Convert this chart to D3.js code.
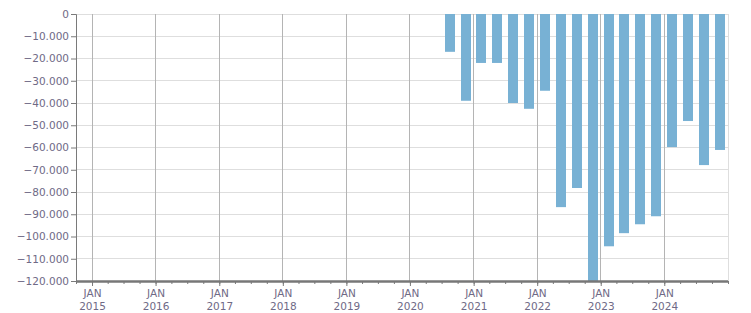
<!DOCTYPE html>
<html>
<head>
<meta charset="utf-8">
<script src="https://cdn.jsdelivr.net/npm/d3@7"></script>
<style>
  body { margin: 0; background: #fff; }
  text { font-family: "DejaVu Sans", Verdana, sans-serif; font-size: 10.5px; fill: #6f6a86; }
</style>
</head>
<body>
<div id="chart"></div>
<script>
// quarterly values, Q3 2020 .. Q4 2024
const quarters = ["2020-Q3","2020-Q4","2021-Q1","2021-Q2","2021-Q3","2021-Q4","2022-Q1","2022-Q2",
                  "2022-Q3","2022-Q4","2023-Q1","2023-Q2","2023-Q3","2023-Q4","2024-Q1","2024-Q2",
                  "2024-Q3","2024-Q4"];
const values = [-17000, -39000, -22000, -22000, -40000, -42600, -34500, -86800,
                -78200, -120000, -104400, -98500, -94500, -90900, -59800, -48100,
                -67900, -61100];
const yTicks = [0, -10000, -20000, -30000, -40000, -50000, -60000, -70000, -80000, -90000, -100000, -110000, -120000];
const years = [2015, 2016, 2017, 2018, 2019, 2020, 2021, 2022, 2023, 2024];

const width = 751, height = 313;
const margin = {top: 14, right: 23, bottom: 32, left: 76};

const svg = d3.select("#chart").append("svg")
    .attr("width", width)
    .attr("height", height);

const x = d3.scaleTime()
    .domain([new Date(2014, 9, 1), new Date(2025, 0, 1)])
    .range([margin.left, width - margin.right]);

const y = d3.scaleLinear()
    .domain([-120000, 0])
    .range([height - margin.bottom, margin.top]);

const fmt = d => d === 0 ? "0" : d3.format(",")(d).replace(/,/g, ".");

// horizontal grid
svg.append("g").selectAll("line")
    .data(yTicks)
    .join("line")
    .attr("x1", margin.left).attr("x2", width - margin.right)
    .attr("y1", d => y(d)).attr("y2", d => y(d))
    .attr("stroke", "#dedede").attr("stroke-width", 1)
    .attr("shape-rendering", "crispEdges");

// right border
svg.append("line")
    .attr("x1", width - margin.right).attr("x2", width - margin.right)
    .attr("y1", margin.top).attr("y2", height - margin.bottom)
    .attr("stroke", "#dedede").attr("shape-rendering", "crispEdges");

// vertical year grid
svg.append("g").selectAll("line")
    .data(years)
    .join("line")
    .attr("x1", d => x(new Date(d, 0, 1))).attr("x2", d => x(new Date(d, 0, 1)))
    .attr("y1", margin.top).attr("y2", height - margin.bottom)
    .attr("stroke", "#b4b4b4").attr("stroke-width", 1)
    .attr("shape-rendering", "crispEdges");

// bars
const qDate = q => {
  const yr = +q.slice(0, 4), qi = +q.slice(-1) - 1;
  const s = new Date(yr, qi * 3, 1), e = new Date(yr, qi * 3 + 3, 1);
  return new Date((s.getTime() + e.getTime()) / 2);
};
const barW = 10;
svg.append("g").selectAll("rect")
    .data(quarters.map((q, i) => ({q, v: values[i]})))
    .join("rect")
    .attr("x", d => Math.round(x(qDate(d.q)) - barW / 2))
    .attr("width", barW)
    .attr("y", y(0))
    .attr("height", d => y(Math.max(d.v, -120000)) - y(0))
    .attr("fill", "#78b1d4");

// y axis
const yAxis = svg.append("g")
    .attr("transform", `translate(${margin.left},0)`)
    .call(d3.axisLeft(y).tickValues(yTicks).tickFormat(fmt).tickSize(5).tickPadding(2));
yAxis.select(".domain").attr("stroke", "#7a7a7a");
yAxis.selectAll(".tick line").attr("stroke", "#7a7a7a");
yAxis.selectAll("text").attr("fill", "#6f6a86").attr("font-family", null).attr("font-size", null);

// x axis minor ticks (quarters)
const xAxisG = svg.append("g")
    .attr("transform", `translate(0,${height - margin.bottom})`);
xAxisG.call(d3.axisBottom(x)
    .ticks(d3.timeMonth.every(3))
    .tickSize(3)
    .tickFormat(""));
xAxisG.select(".domain").remove();
xAxisG.selectAll(".tick line").attr("stroke", "#7a7a7a");

// x axis major ticks (years)
const xMajor = svg.append("g")
    .attr("transform", `translate(0,${height - margin.bottom})`)
    .call(d3.axisBottom(x)
      .tickValues(years.map(d => new Date(d, 0, 1)))
      .tickSize(5)
      .tickFormat(""));
xMajor.select(".domain").remove();
xMajor.selectAll(".tick line").attr("stroke", "#7a7a7a");
xMajor.selectAll(".tick").each(function(d) {
  const t = d3.select(this).append("text").attr("text-anchor", "middle").attr("fill", "#6f6a86");
  t.append("tspan").attr("x", 0).attr("y", 16).text("JAN");
  t.append("tspan").attr("x", 0).attr("y", 29).text(d.getFullYear());
});

// bottom axis line
svg.append("line")
    .attr("x1", margin.left).attr("x2", width - margin.right)
    .attr("y1", height - margin.bottom + 0.5).attr("y2", height - margin.bottom + 0.5)
    .attr("stroke", "#777").attr("stroke-width", 2.5);
</script>
</body>
</html>
